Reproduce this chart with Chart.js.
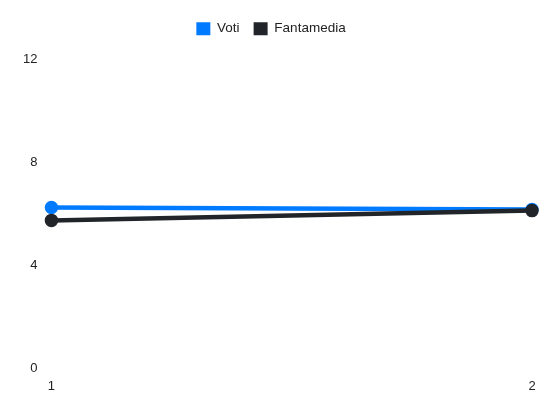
<!DOCTYPE html>
<html>
<head>
<meta charset="utf-8">
<script src="https://cdn.jsdelivr.net/npm/chart.js@4"></script>
<style>
  html, body { margin: 0; padding: 0; background: #fff; }
  #wrap { width: 550px; height: 412px; }
</style>
</head>
<body>
<div id="wrap"><canvas id="chart"></canvas></div>
<script>
const labels = ['1', '2'];
const voti = [6.25, 6.17];
const fantamedia = [5.75, 6.13];
const yTicks = [0, 4, 8, 12];

Chart.defaults.font.family = '"Liberation Sans", Arial, sans-serif';
Chart.defaults.font.size = 13;
Chart.defaults.color = '#222';

// spazio extra sotto la legenda
const legendSpacing = {
    id: 'legendSpacing',
    beforeInit(chart) {
        const origFit = chart.legend.fit;
        chart.legend.fit = function () {
            origFit.bind(chart.legend)();
            this.height += 14;
        };
    }
};

new Chart(document.getElementById('chart'), {
    type: 'line',
    data: {
        labels: labels,
        datasets: [{
            label: 'Voti',
            data: voti,
            borderColor: '#007bff',
            backgroundColor: '#007bff',
            borderWidth: 4.5,
            pointRadius: 4.5,
            fill: false,
            order: 1
        }, {
            label: 'Fantamedia',
            data: fantamedia,
            borderColor: '#212529',
            backgroundColor: '#212529',
            borderWidth: 4.5,
            pointRadius: 4.5,
            fill: false,
            order: 0
        }]
    },
    options: {
        responsive: true,
        maintainAspectRatio: false,
        animation: false,
        layout: { padding: { left: 10, right: 18, bottom: 16, top: 8 } },
        scales: {
            x: {
                grid: { display: false },
                border: { display: false },
                ticks: { padding: 2 }
            },
            y: {
                min: 0,
                max: 12,
                grid: { display: false },
                border: { display: false },
                afterBuildTicks: axis => {
                    axis.ticks = yTicks.map(v => ({ value: v }));
                },
                afterFit: axis => { axis.width += 7; },
                ticks: { padding: 6 }
            }
        },
        plugins: {
            legend: {
                position: 'top',
                labels: {
                    boxWidth: 14,
                    boxHeight: 13,
                    padding: 14,
                    color: '#222',
                    font: { size: 13.5 },
                    sort: (a, b) => a.datasetIndex - b.datasetIndex,
                    generateLabels: chart => {
                        const items = Chart.defaults.plugins.legend.labels.generateLabels(chart);
                        items.forEach(it => { it.lineWidth = 0; });
                        return items;
                    }
                }
            },
            tooltip: { enabled: false }
        }
    },
    plugins: [legendSpacing]
});
</script>
</body>
</html>
